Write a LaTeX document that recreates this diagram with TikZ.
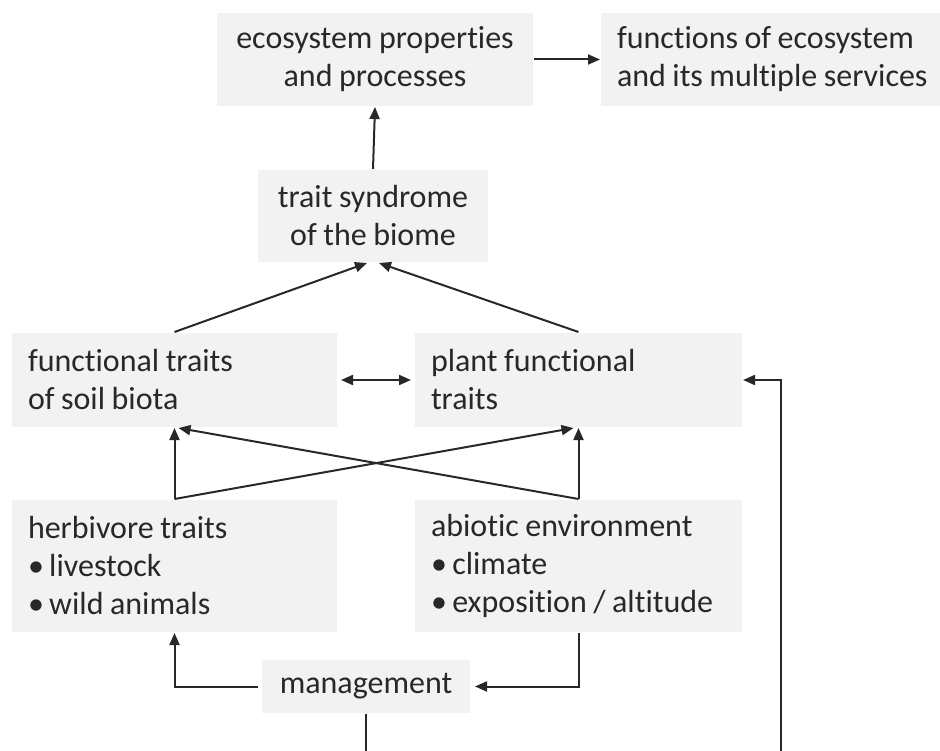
\documentclass[tikz,border=0pt]{standalone}
\usepackage{fontspec}
\setmainfont[Ligatures={NoCommon,NoRare,NoContextual}, WordSpace={0.9,0,0}]{Carlito}
\usetikzlibrary{arrows.meta}
\definecolor{boxgray}{RGB}{242,242,242}
\definecolor{inkgray}{RGB}{40,40,40}
\tikzset{
	box/.style={fill=boxgray, inner sep=0pt, font=\fontsize{32}{38}\selectfont},
	cbox/.style={box, align=center},
	lbox/.style={box, align=flush left, inner xsep=16pt},
}

\begin{document}
\begin{tikzpicture}[x=1pt, y=-1pt, color=inkgray, line width=2pt, >={Triangle[length=12pt,width=10pt]}]
			\useasboundingbox (0,0) rectangle (940,751);
			
			\node[cbox, minimum width=316pt, minimum height=93pt] (eco) at (375,59.5) {ecosystem properties\\and processes};
			\node[lbox, text width=326pt, minimum height=93pt] (serv) at (780,59.5) {functions of ecosystem\\and its multiple services};
			\node[cbox, minimum width=230pt, minimum height=92pt] (syn) at (373,216) {trait syndrome\\of the biome};
			\node[lbox, text width=293pt, minimum height=94pt] (soil) at (174.5,380) {functional traits\\of soil biota};
			\node[lbox, text width=295pt, minimum height=94pt] (plant) at (578.5,380) {plant functional\\traits};
			\node[lbox, text width=293pt, minimum height=132pt] (herb) at (174.5,566) {herbivore traits\\•\,livestock\\•\,wild animals};
			\node[lbox, text width=295pt, minimum height=132pt] (abio) at (578.5,566) {abiotic environment\\•\,climate\\•\,exposition / altitude};
			\node[cbox, minimum width=208pt, minimum height=53pt] (mgmt) at (366,686.5) {management};
			
			\draw[->] (eco.east) -- (serv.west);
			\draw[->] (syn.north) -- (eco.south);
			
			\draw[->] (soil.north) -- ([xshift=-6pt]syn.south);
			\draw[->] (plant.north) -- ([xshift=6pt]syn.south);
			\draw[<->, shorten <=3pt, shorten >=3pt] (soil.east) -- (plant.west);
			
			\draw[->] (herb.north) -- (soil.south);
			\draw[->] (herb.north) -- ([xshift=-5pt]plant.south);
			\draw[->] (abio.north) -- (plant.south);
			\draw[->] (abio.north) -- ([xshift=4pt]soil.south);
			
			\draw[->, shorten <=3pt] (mgmt.west) -| (herb.south);
			\draw[->, shorten >=4pt] (abio.south) |- (mgmt.east);
			
			\coordinate (bend) at (781,752);
			\draw[->] (mgmt.south) |- (bend) |- (plant.east);
			
		\end{tikzpicture}
\end{document}
